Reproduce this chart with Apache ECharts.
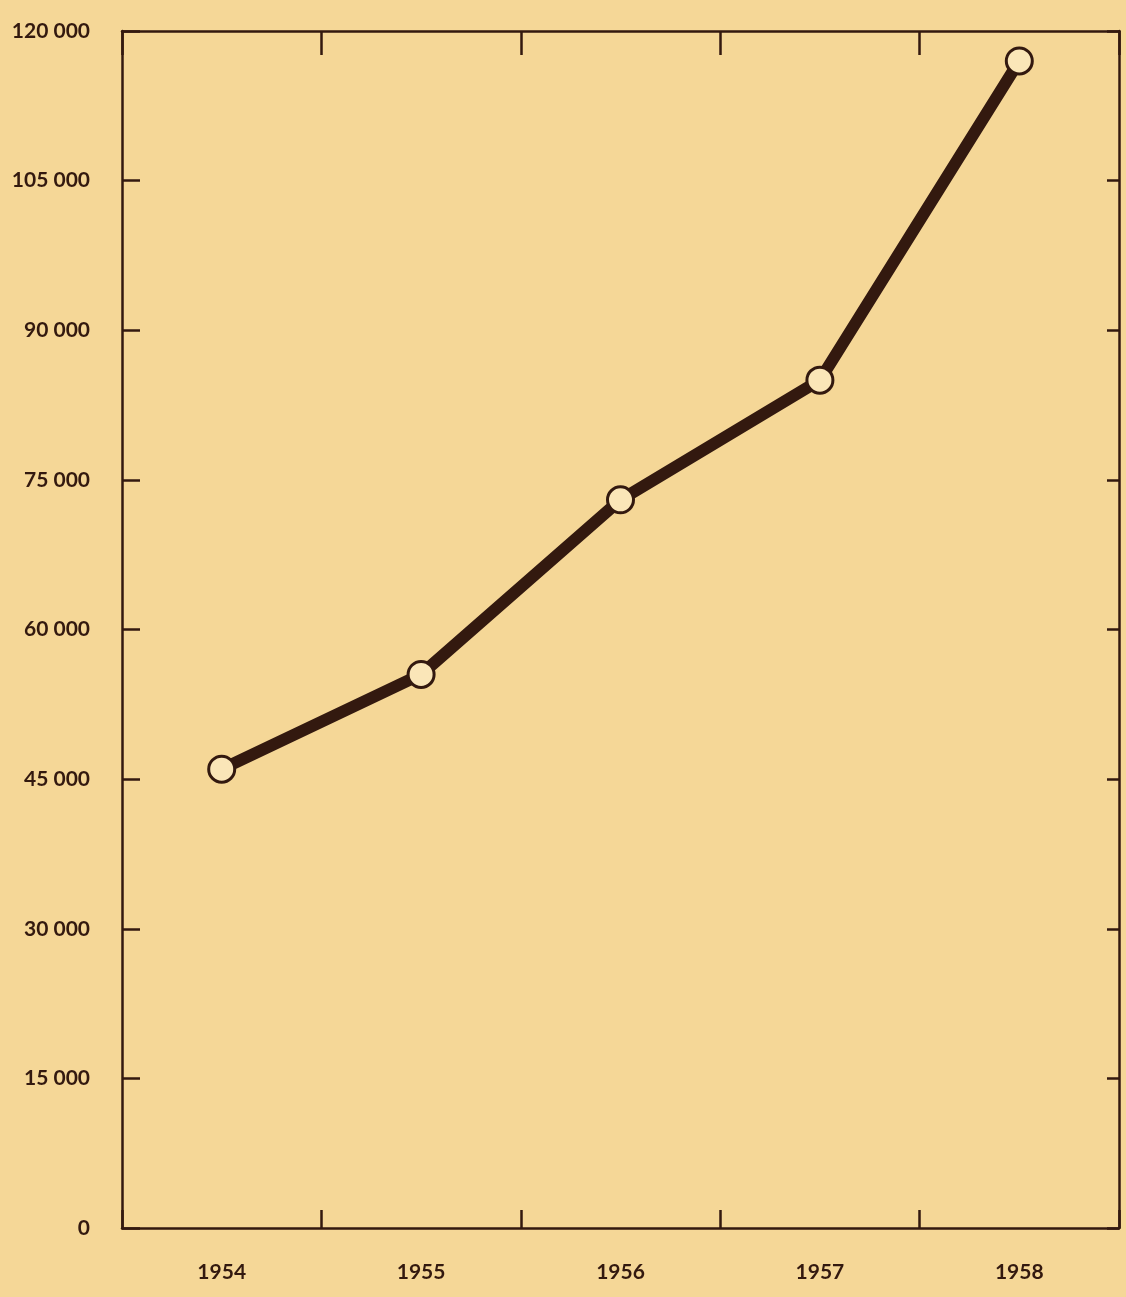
<!DOCTYPE html>
<html>
<head>
<meta charset="utf-8">
<script src="https://cdn.jsdelivr.net/npm/echarts@6/dist/echarts.min.js"></script>
<style>
  html, body { margin: 0; padding: 0; background: #f5d797; }
  #chart { width: 1126px; height: 1297px; }
</style>
</head>
<body>
<div id="chart"></div>
<script>
const years = ['1954', '1955', '1956', '1957', '1958'];
const values = [46000, 55500, 73000, 85000, 117000];
const yTicks = [0, 15000, 30000, 45000, 60000, 75000, 90000, 105000, 120000];

const ink = '#33190f';
const chart = echarts.init(document.getElementById('chart'));

const fmt = v => {
  if (v === 0) return '0';
  const s = String(v);
  return s.slice(0, s.length - 3) + ' ' + s.slice(-3);
};

const lineStyle = { color: ink, width: 2.5 };

const option = {
  backgroundColor: '#f5d797',
  grid: { left: 122, right: 7, top: 31, bottom: 69 },
  xAxis: [
    {
      type: 'category',
      data: years,
      position: 'bottom',
      boundaryGap: true,
      axisLine: { onZero: false, lineStyle: lineStyle },
      axisTick: { show: true, alignWithLabel: false, inside: true, length: 18, lineStyle: lineStyle },
      axisLabel: {
        color: ink,
        fontSize: 21,
        fontFamily: 'Lato, "DejaVu Sans", sans-serif',
        fontWeight: 'bold',
        margin: 34
      },
      splitLine: { show: false }
    },
    {
      type: 'category',
      data: years,
      position: 'top',
      boundaryGap: true,
      axisLine: { onZero: false, lineStyle: lineStyle },
      axisTick: { show: true, alignWithLabel: false, inside: true, length: 24, lineStyle: lineStyle },
      axisLabel: { show: false },
      splitLine: { show: false }
    }
  ],
  yAxis: [
    {
      type: 'value',
      position: 'left',
      min: 0,
      max: 120000,
      interval: 15000,
      axisLine: { show: true, onZero: false, lineStyle: lineStyle },
      axisTick: { show: true, inside: true, length: 18, lineStyle: lineStyle },
      axisLabel: {
        color: ink,
        fontSize: 21,
        fontFamily: 'Lato, "DejaVu Sans", sans-serif',
        fontWeight: 'bold',
        margin: 32,
        padding: [0, 0, 16, 0],
        formatter: v => yTicks.includes(v) ? fmt(v) : ''
      },
      splitLine: { show: false }
    },
    {
      type: 'value',
      position: 'right',
      min: 0,
      max: 120000,
      interval: 15000,
      axisLine: { show: true, onZero: false, lineStyle: lineStyle },
      axisTick: { show: true, inside: true, length: 12, lineStyle: lineStyle },
      axisLabel: { show: false },
      splitLine: { show: false }
    }
  ],
  series: [
    {
      type: 'line',
      data: values,
      xAxisIndex: 0,
      yAxisIndex: 0,
      symbol: 'circle',
      symbolSize: 26,
      lineStyle: { color: ink, width: 12 },
      itemStyle: { color: '#fae6b8', borderColor: ink, borderWidth: 3 },
      z: 5
    }
  ]
};

chart.setOption(option);
</script>
</body>
</html>
